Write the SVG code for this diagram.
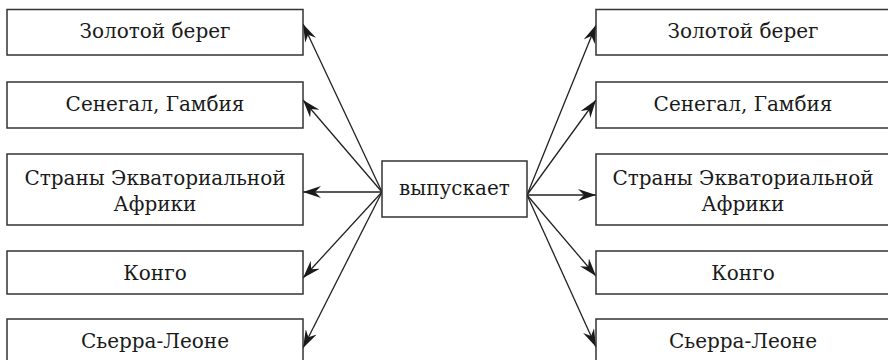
<svg xmlns="http://www.w3.org/2000/svg" width="888" height="360" viewBox="0 0 888 360">
<style>
.box{fill:#fff;stroke:#333;stroke-width:1.5}
.t{font-family:"DejaVu Serif","Liberation Serif",serif;font-size:20px;fill:#1a1a1a;text-anchor:middle}
.c{stroke:#222;stroke-width:1.3;fill:none;marker-end:url(#ah)}
</style>
<defs>
<marker id="ah" viewBox="0 0 18 12" refX="18" refY="6" markerWidth="18" markerHeight="12" orient="auto" markerUnits="userSpaceOnUse">
<path d="M0,0 L18,6 L0,12 L6,6 z" fill="#1a1a1a"/>
</marker>
</defs>
<rect width="888" height="360" fill="#fff"/>
<g id="connectors">
<line class="c" x1="382" y1="192" x2="303" y2="24"/>
<line class="c" x1="382" y1="192" x2="303" y2="100"/>
<line class="c" x1="382" y1="192" x2="303" y2="192"/>
<line class="c" x1="382" y1="192" x2="303" y2="278"/>
<line class="c" x1="382" y1="192" x2="303" y2="348"/>
<line class="c" x1="527" y1="195" x2="596" y2="25"/>
<line class="c" x1="527" y1="195" x2="596" y2="100"/>
<line class="c" x1="527" y1="195" x2="596" y2="195"/>
<line class="c" x1="527" y1="195" x2="596" y2="276"/>
<line class="c" x1="527" y1="195" x2="596" y2="347"/>
</g>
<g id="center">
<rect class="box" x="382" y="161" width="145" height="56"/>
<text class="t" x="454.5" y="195">выпускает</text>
</g>
<g id="l1"><rect class="box" x="7" y="9.5" width="296" height="45.5"/><text class="t" x="155" y="38">Золотой берег</text></g>
<g id="l2"><rect class="box" x="7" y="82" width="296" height="46"/><text class="t" x="155" y="111">Сенегал, Гамбия</text></g>
<g id="l3"><rect class="box" x="7" y="154" width="296" height="71"/><text class="t" x="155" y="185">Страны Экваториальной</text><text class="t" x="155" y="211">Африки</text></g>
<g id="l4"><rect class="box" x="7" y="251" width="296" height="43"/><text class="t" x="155" y="280">Конго</text></g>
<g id="l5"><rect class="box" x="7" y="319" width="296" height="50"/><text class="t" x="155" y="348">Сьерра-Леоне</text></g>
<g id="r1"><rect class="box" x="596" y="9.5" width="294" height="45.5"/><text class="t" x="743" y="38">Золотой берег</text></g>
<g id="r2"><rect class="box" x="596" y="82" width="294" height="46"/><text class="t" x="743" y="111">Сенегал, Гамбия</text></g>
<g id="r3"><rect class="box" x="596" y="154" width="294" height="71"/><text class="t" x="743" y="185">Страны Экваториальной</text><text class="t" x="743" y="211">Африки</text></g>
<g id="r4"><rect class="box" x="596" y="251" width="294" height="43"/><text class="t" x="743" y="280">Конго</text></g>
<g id="r5"><rect class="box" x="596" y="319" width="294" height="50"/><text class="t" x="743" y="348">Сьерра-Леоне</text></g>
</svg>
